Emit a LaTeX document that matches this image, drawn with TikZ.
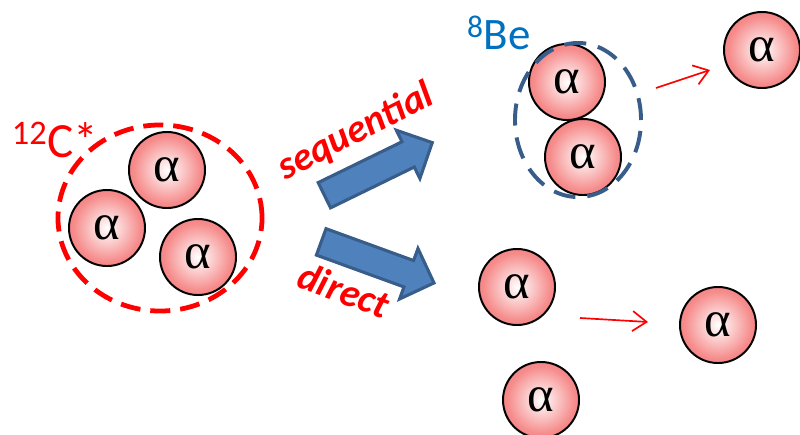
\documentclass[tikz,border=0pt]{standalone}
\usepackage{fontspec}
\setmainfont{Carlito}
\newfontfamily\greekfont{Liberation Serif}
\usetikzlibrary{shapes.geometric,shapes.arrows,arrows.meta}
\definecolor{ballred}{RGB}{236,78,78}
\definecolor{ballmid}{RGB}{246,140,140}
\definecolor{blockfill}{RGB}{79,129,189}
\definecolor{blockedge}{RGB}{56,93,138}
\definecolor{beblue}{RGB}{0,112,192}
\pgfdeclareradialshading{ballshade}{\pgfpoint{0bp}{0bp}}{color(0bp)=(white); color(22bp)=(ballmid); color(50bp)=(ballred)}
\begin{document}
\begin{tikzpicture}[x=0.025cm, y=-0.025cm,
    anode/.style={circle, draw=black, line width=1.4pt, minimum size=1.9cm, inner sep=0pt,
      shading=ballshade, font=\greekfont\fontsize{36}{36}\selectfont},
    blockarrow/.style={single arrow, draw=blockedge, fill=blockfill, line width=2.2pt,
      inner xsep=0pt, inner ysep=0.3125cm, single arrow head extend=0.32cm, minimum height=3.0cm},
    thinarrow/.style={-{Straight Barb[length=0.35cm, width=0.5cm]}, red, line width=1.2pt}]
  \useasboundingbox (0,0) rectangle (800,434);
  % Alpha particles
  \foreach \name/\x/\y in {ca/167/170, cb/107/228, cc/198/257,
      ba/567/82, bb/583/157, ta/762/50, da/517/287, db/541/400, dc/718/325}{
    \node[anode] (\name) at (\x,\y) {α};
  }
  % Dashed groupings
  \node[ellipse, draw=red, dash pattern=on 0.5cm off 0.25cm, line width=3.4pt,
    minimum width=5.1cm, minimum height=4.65cm] (cgroup) at (160,218) {};
  \node[ellipse, draw=blockedge, dash pattern=on 0.55cm off 0.3cm, line width=2.8pt,
    minimum width=3.15cm, minimum height=3.85cm] (begroup) at (578,120) {};
  % Labels of the nuclei
  \node[text=red, font=\fontsize{35}{35}\selectfont] (clabel) at (55,140) {\textsuperscript{12}C*};
  \node[text=beblue, font=\fontsize{32}{32}\selectfont] (belabel) at (499,33) {\textsuperscript{8}Be};
  % Decay channels
  \node[blockarrow, rotate=26] (seqarrow) at (372,172) {};
  \node[blockarrow, rotate=-20] (dirarrow) at (371,260) {};
  \node[text=red, rotate=27, font=\bfseries\itshape\fontsize{28}{28}\selectfont] (seqlabel) at (356,132) {sequential};
  \node[text=red, rotate=-20, font=\bfseries\itshape\fontsize{28}{28}\selectfont] (dirlabel) at (344,290) {direct};
  % Emission arrows
  \coordinate (s1) at (656,88);
  \coordinate (s2) at (710,70);
  \coordinate (d1) at (580,318);
  \coordinate (d2) at (648,322);
  \draw[thinarrow] (s1) -- (s2);
  \draw[thinarrow] (d1) -- (d2);
\end{tikzpicture}
\end{document}
